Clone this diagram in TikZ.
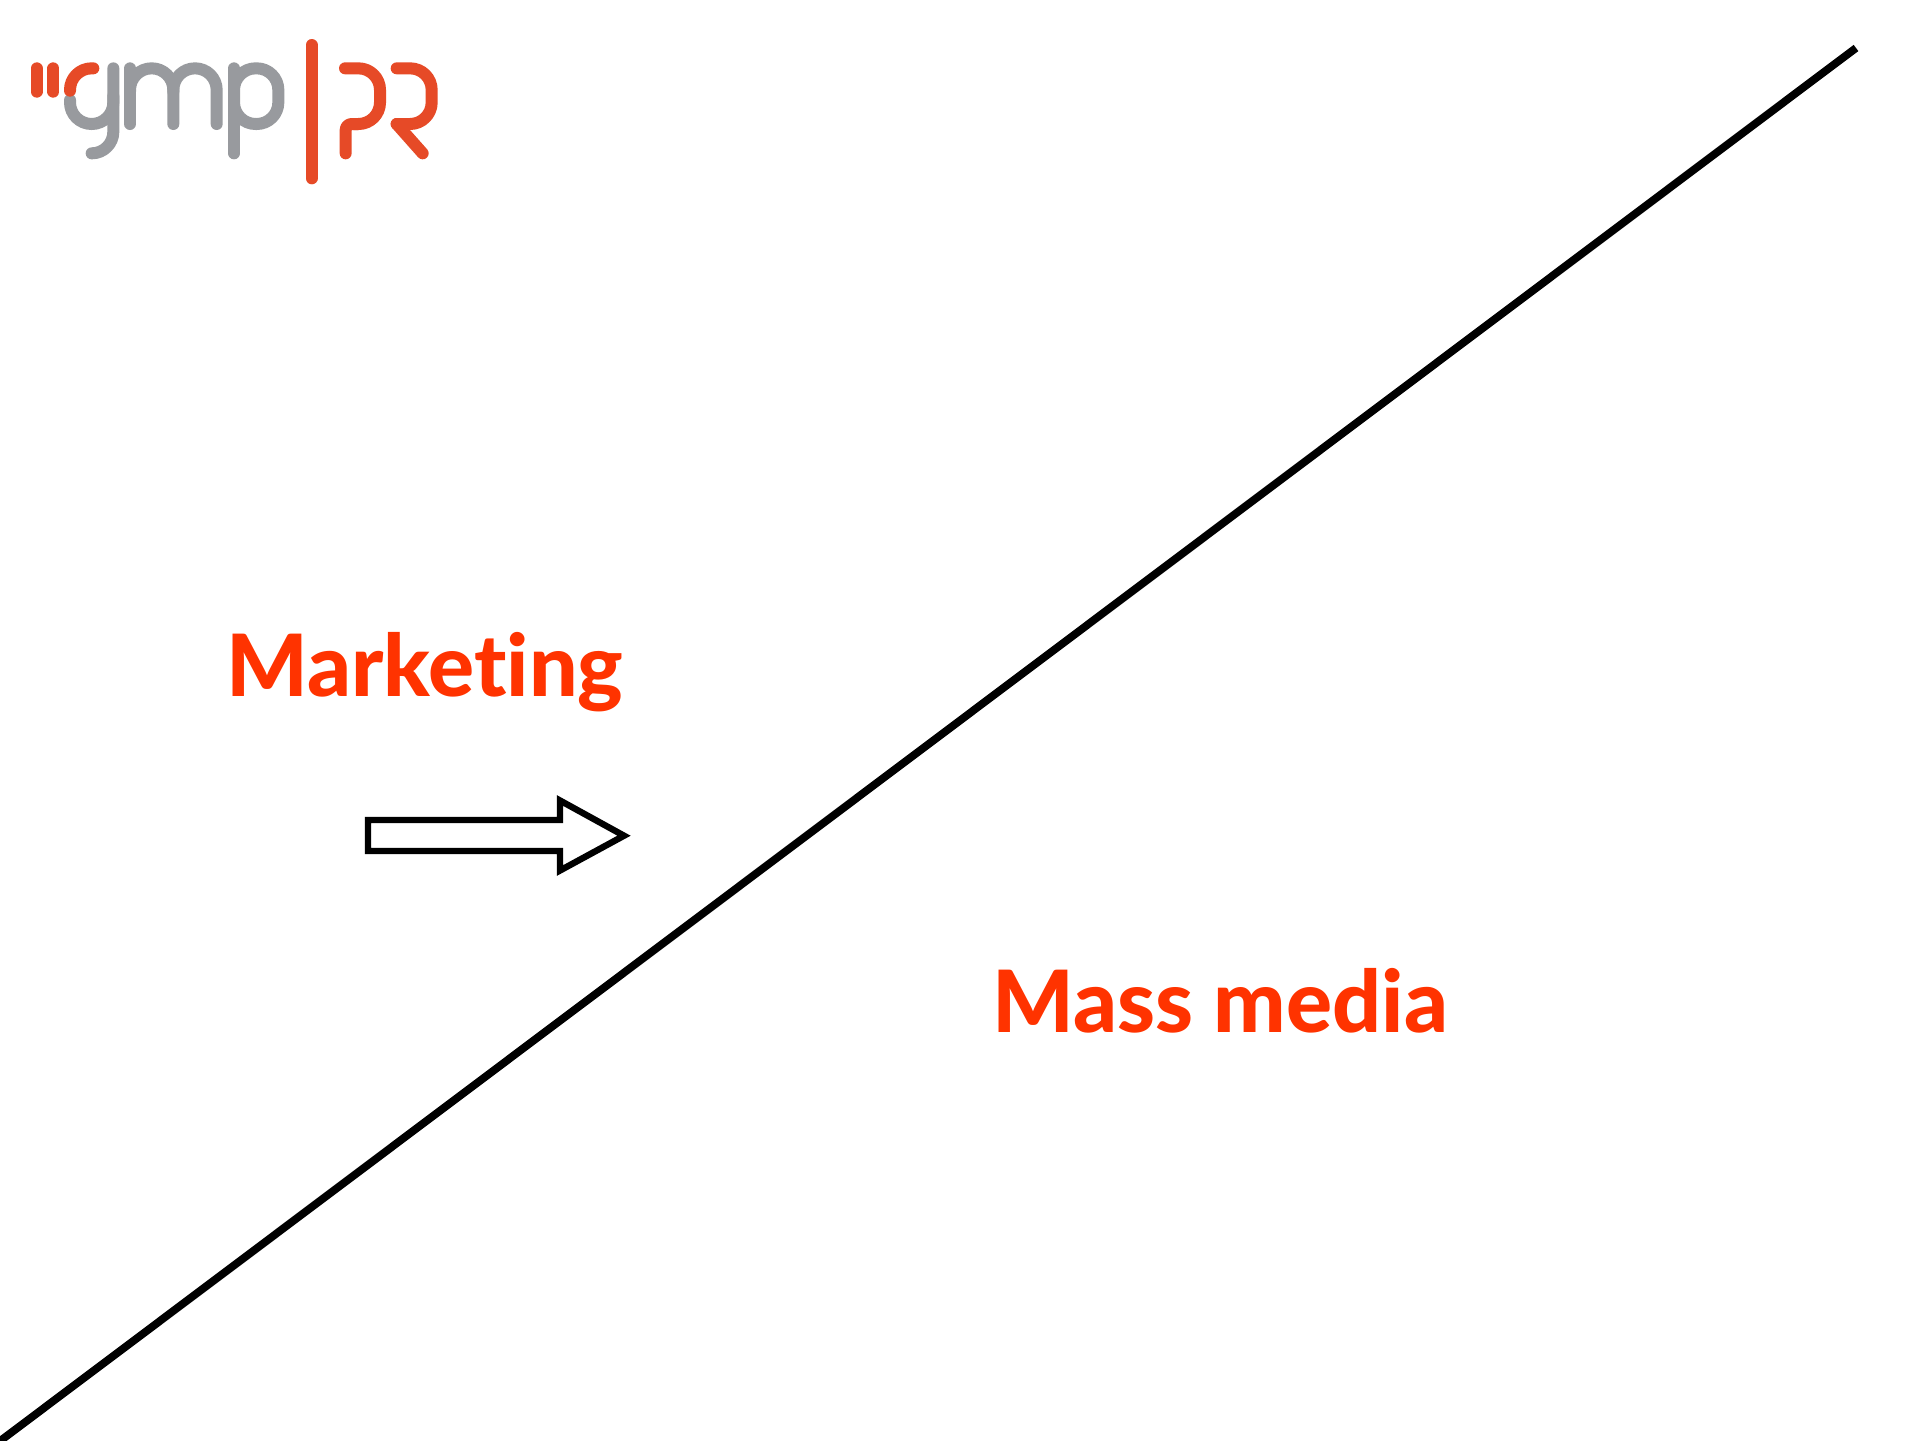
\documentclass[tikz,border=0pt]{standalone}
\usepackage{fontspec}
\setmainfont{Lato}[BoldFont=* Heavy,Ligatures=NoCommon]
\definecolor{logored}{HTML}{E64A27}
\definecolor{logogray}{HTML}{989A9E}
\definecolor{labelred}{HTML}{FF3300}
\tikzset{
  logostroke/.style={line width=6pt,line cap=round,line join=round,rounded corners=10.8pt},
  redstroke/.style={logostroke,draw=logored},
  graystroke/.style={logostroke,draw=logogray},
  labeltext/.style={text=labelred,font=\fontsize{43pt}{43pt}\selectfont\bfseries,inner sep=0pt,anchor=base west},
  divider/.style={line width=3.9pt,draw=black,line cap=butt},
  blockarrow/.style={line width=3.2pt,draw=black,fill=white,line join=miter,miter limit=10}
}
\begin{document}
\begin{tikzpicture}[x=0.5pt,y=-0.5pt]
\useasboundingbox[fill=white] (0,0) rectangle (1920,1440);
\coordinate (lineA) at (0,1441);
\coordinate (lineB) at (1856,48);
\draw[divider] (lineA) -- (lineB);
\node[labeltext] (marketing) at (226,696) {Marketing};
\node[labeltext] (massmedia) at (992,1032) {Mass media};
\draw[blockarrow] (368,820) -- (560,820) -- (560,800.5) -- (624,835.7) -- (560,870.5) -- (560,851) -- (368,851) -- cycle;
\begin{scope}[x=0.16667pt,y=-0.16667pt,yshift=-10pt]
\draw[redstroke] (110,145) -- (110,215);
\draw[redstroke] (160,145) -- (160,215);
% g
\draw[graystroke] (210,240) -- (210,312) -- (340,312) -- (340,228);
\draw[graystroke] (340,145) -- (340,400) -- (275,400);
\draw[redstroke] (280,145) -- (210,145) -- (210,212);
% m
\draw[graystroke] (390,312) -- (390,145);
\draw[graystroke] (390,215) -- (390,145) -- (520,145) -- (520,312);
\draw[graystroke] (520,215) -- (520,145) -- (650,145) -- (650,312);
% p
\draw[graystroke] (702,400) -- (702,145);
\draw[graystroke] (702,228) -- (702,145) -- (835,145) -- (835,312) -- (702,312) -- cycle;
% divider bar
\draw[redstroke] (935,75) -- (935,475);
% P
\draw[redstroke] (1035,145) -- (1140,145) -- (1140,312) -- (1060,312);
\draw[redstroke,rounded corners=3pt] (1075,312) -- (1037,312) -- (1037,400);
% R
\draw[redstroke] (1190,145) -- (1295,145) -- (1295,312) -- (1190,312);
\draw[redstroke] (1190,312) -- (1268,400);
\end{scope}
\end{tikzpicture}
\end{document}
